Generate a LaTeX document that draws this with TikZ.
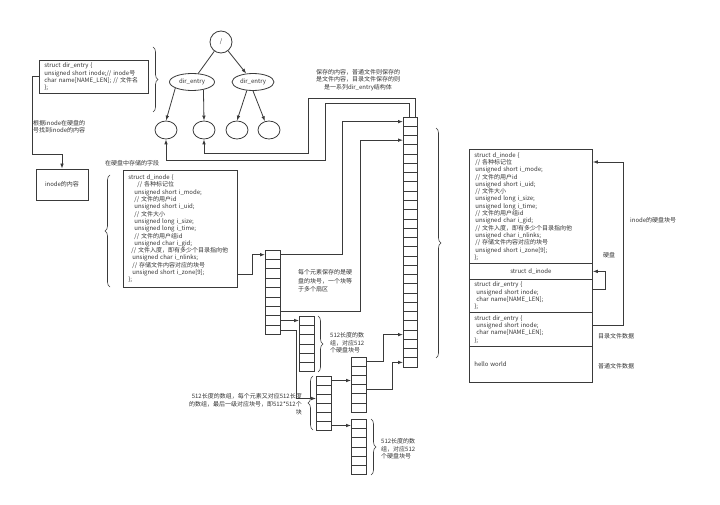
\documentclass[tikz,border=0pt]{standalone}
\usepackage{fontspec}
\setmainfont{Noto Sans CJK SC}
\usetikzlibrary{arrows.meta,decorations.pathreplacing,calc,shapes.geometric}
\definecolor{lc}{HTML}{3A3A3A}
\definecolor{tc}{HTML}{333333}
\begin{document}
\begin{tikzpicture}[x=1pt,y=-1pt,
  ln/.style={draw=lc, line width=0.8pt},
  arr/.style={ln, -{Latex[length=5pt,width=3.6pt]}},
  txt/.style={font=\fontsize{6}{7.3}\selectfont, text=tc, inner sep=0pt, align=left},
  box/.style={draw=lc, line width=0.8pt},
  cell/.style={draw=lc, line width=0.7pt, minimum width=15pt, inner sep=0pt, outer sep=0pt},
  ell/.style={draw=lc, line width=0.8pt, font=\fontsize{6}{7}\selectfont, text=tc, inner sep=0.5pt},
  brc/.style={draw=lc, line width=0.6pt, decorate, decoration={brace, amplitude=5pt}}
]
\useasboundingbox[fill=white] (0,0) rectangle (720,505);

% ---------- top-left dir_entry box ----------
\node[box, txt, anchor=north west, text width=99pt, minimum height=33pt, inner xsep=5pt] (de) at (39,60)
 {struct dir\_entry \{\\unsigned short inode;// inode号\\char name[NAME\_LEN]; // 文件名\\\};};
\draw[brc] (153,47) -- (153,112);

\node[txt, anchor=west] (lbA) at (33,126.5) {根据inode在硬盘的\\号找到inode的内容};
\node[box, txt, align=center, minimum width=52pt, minimum height=31pt] (ic) at (62,184.5) {inode的内容};
\draw[arr] (de.west) -- ++(-7,0) |- ($(ic.north)+(0,-14)$) -- (ic.north);

% ---------- tree ----------
\node[ell, circle, minimum size=22pt] (root) at (221,42) {/};
\node[ell, ellipse, minimum width=45pt, minimum height=17pt] (d1) at (192,82) {dir\_entry};
\node[ell, ellipse, minimum width=42pt, minimum height=17pt] (d2) at (253,82) {dir\_entry};
\node[ell, ellipse, minimum width=22pt, minimum height=18pt] (l1) at (166,130) {};
\node[ell, ellipse, minimum width=22pt, minimum height=18pt] (l2) at (204,130) {};
\node[ell, ellipse, minimum width=22pt, minimum height=18pt] (l3) at (237,130) {};
\node[ell, ellipse, minimum width=22pt, minimum height=18pt] (l4) at (269,130) {};
\draw[ln] (root) -- (d1);
\draw[arr] (root) -- (d2);
\draw[arr] (d1.200) -- (l1.north);
\draw[arr] (d1.-34) -- (l2.north);
\draw[arr] (d2.234) -- (l3.north);
\draw[arr] (d2.-90) -- (l4.115);

% ---------- top label ----------
\node[txt, align=center] (lbTop) at (358,80) {保存的内容，普通文件则保存的\\是文件内容，目录文件保存的则\\是一系列dir\_entry结构体};

% ---------- middle d_inode box ----------
\node[txt, anchor=west] (lbMid) at (105,163) {在硬盘中存储的字段};
\node[box, txt, anchor=north west, text width=104pt, minimum height=117pt, inner xsep=5pt] (mi) at (123,170)
 {struct d\_inode \{\\
  \hspace*{9pt}// 各种标记位\\
  \hspace*{6pt}unsigned short i\_mode;\\
  \hspace*{6pt}// 文件的用户id\\
  \hspace*{6pt}unsigned short i\_uid;\\
  \hspace*{6pt}// 文件大小\\
  \hspace*{6pt}unsigned long i\_size;\\
  \hspace*{6pt}unsigned long i\_time;\\
  \hspace*{6pt}// 文件的用户组id\\
  \hspace*{6pt}unsigned char i\_gid;\\
  \hspace*{3pt}// 文件入度，即有多少个目录指向他\\
  \hspace*{4pt}unsigned char i\_nlinks;\\
  \hspace*{4pt}// 存储文件内容对应的块号\\
  \hspace*{4pt}unsigned short i\_zone[9];\\
  \};};
\draw[brc] (110,287) -- (110,175);

% ---------- arrays ----------
\foreach \i in {1,...,9} \node[cell, minimum height=9.4pt] (Z-\i) at (272.5,{250+(\i-0.5)*9.4}) {};
\foreach \i in {1,...,6} \node[cell, minimum height=9.3pt] (B-\i) at (306.5,{316+(\i-0.5)*9.3}) {};
\foreach \i in {1,...,6} \node[cell, minimum height=9pt] (D-\i) at (323.5,{376+(\i-0.5)*9}) {};
\foreach \i in {1,...,6} \node[cell, minimum height=9.2pt] (E-\i) at (358.5,{357+(\i-0.5)*9.2}) {};
\foreach \i in {1,...,6} \node[cell, minimum height=9.3pt] (F-\i) at (358.5,{419+(\i-0.5)*9.3}) {};
\foreach \i in {1,...,27} \node[cell, minimum width=14pt, minimum height=9.26pt] (G-\i) at (410,{117+(\i-0.5)*9.26}) {};

\draw[brc] (436,128) -- (436,358);
\draw[brc] (318,316) -- (318,372);
\draw[brc] (313,430) -- (313,376);
\draw[brc] (371,419) -- (371,475);

\node[txt, anchor=west, font=\fontsize{6}{8.6}\selectfont] (lbZ) at (298,281) {每个元素保存的是硬\\盘的块号，一个块等\\于多个扇区};
\node[txt, anchor=west] (lbB) at (330,343) {512长度的数\\组，对应512\\个硬盘块号};
\node[txt, anchor=west] (lbF) at (381,449) {512长度的数\\组，对应512\\个硬盘块号};
\node[txt, anchor=east, align=right, font=\fontsize{6}{8}\selectfont] (lbD) at (302,404) {512长度的数组，每个元素又对应512长度\\的数组，最后一级对应块号，即512*512个\\块};

% ---------- connectors among arrays ----------
\draw[arr] ($(mi.south east)+(0,-13)$) -- ++(15,0) |- (Z-1.west);
\draw[arr] (Z-1.east) -| ($(G-1.west)+(-61,0)$) -- (G-1.west);
\draw[arr] (Z-7.east) -| ($(G-3.west)+(-43,0)$) -- (G-3.west);
\draw[arr] (Z-8.east) -- (Z-8.east -| B-1.west);
\draw[arr] (Z-9.east) -| ($(D-3.west)+(-20,0)$) -- (D-3.west);
\draw[arr] (D-1.east) -- (D-1.east -| E-3.west);
\draw[arr] (D-6.east) -- (D-6.east -| F-1.west);
\draw[arr] (E-1.east) -| ($(G-24.west)+(-20,0)$) -- (G-24.west);
\draw[arr] (E-4.east) -| ($(G-27.west)+(-11,0)$) -- (G-27.west);

% big array to leaves
\draw[arr] ($(G-1.north west)+(6,0)$) -- ++(0,-14) -| (325,160) -| (l1.south);
\draw[arr] ($(G-1.north west)+(12,0)$) -- ++(0,-19) -| (308,153) -| (l2.south);

% ---------- right disk layout ----------
\node[box, txt, anchor=north west, text width=113pt, minimum height=114pt, inner xsep=5pt] (r1) at (469,149)
 {struct d\_inode \{\\
  \hspace*{1pt}// 各种标记位\\
  \hspace*{1pt}unsigned short i\_mode;\\
  \hspace*{1pt}// 文件的用户id\\
  \hspace*{1pt}unsigned short i\_uid;\\
  \hspace*{1pt}// 文件大小\\
  \hspace*{1pt}unsigned long i\_size;\\
  \hspace*{1pt}unsigned long i\_time;\\
  \hspace*{1pt}// 文件的用户组id\\
  \hspace*{1pt}unsigned char i\_gid;\\
  \hspace*{1pt}// 文件入度，即有多少个目录指向他\\
  \hspace*{1pt}unsigned char i\_nlinks;\\
  \hspace*{1pt}// 存储文件内容对应的块号\\
  \hspace*{1pt}unsigned short i\_zone[9];\\
  \};};
\node[box, txt, align=center, anchor=north west, text width=113pt, minimum height=16pt, inner xsep=5pt] (r2) at (469,263) {struct d\_inode};
\node[box, txt, anchor=north west, text width=113pt, minimum height=33pt, inner xsep=5pt] (r3) at (469,279)
 {struct dir\_entry \{\\\hspace*{2pt}unsigned short inode;\\\hspace*{2pt}char name[NAME\_LEN];\\\};};
\node[box, txt, anchor=north west, text width=113pt, minimum height=34pt, inner xsep=5pt] (r4) at (469,312)
 {struct dir\_entry \{\\\hspace*{2pt}unsigned short inode;\\\hspace*{2pt}char name[NAME\_LEN];\\\};};
\node[box, txt, anchor=north west, text width=113pt, minimum height=36pt, inner xsep=5pt] (r5) at (469,346) {hello world};

\draw[arr] ($(r4.north east)+(0,13)$) -- ++(31,0) |- ($(r1.north east)+(0,13)$);
\draw[arr] ($(r3.north east)+(0,10)$) -- ++(13,0) |- (r2.east);

\node[txt, anchor=west] (lbR1) at (630,220) {inode的硬盘块号};
\node[txt] (lbR2) at (609,255) {硬盘};
\node[txt, anchor=west] (lbR3) at (598,336) {目录文件数据};
\node[txt, anchor=west] (lbR4) at (598,366) {普通文件数据};
\end{tikzpicture}
\end{document}
